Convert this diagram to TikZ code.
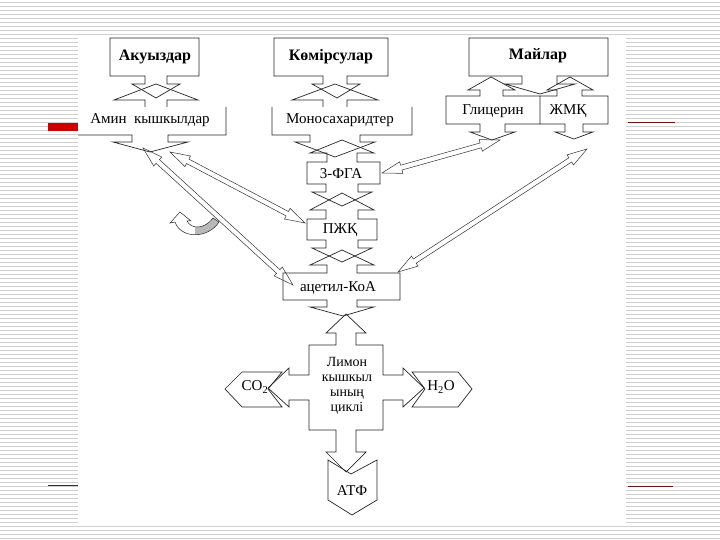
\documentclass[tikz,border=0pt]{standalone}
\usepackage{fontspec}
\setmainfont{Liberation Serif}
\usetikzlibrary{calc}
\definecolor{stripe}{RGB}{208,208,208}
\definecolor{redbar}{RGB}{204,0,0}
\definecolor{darkred}{RGB}{110,20,20}
\tikzset{
  shp/.style={draw=black!85, line width=0.7pt, line join=miter},
  lbl/.style={font=\fontsize{15}{16}\selectfont, inner sep=0pt},
  blbl/.style={font=\fontsize{16}{17}\selectfont\bfseries, inner sep=0pt},
  blk/.style={draw=black!80, line width=0.5pt, fill=white},
}
\newcommand\dblarrow[2]{%
  \coordinate (da1) at ($(#1)!20pt!(#2)$);
  \coordinate (da2) at ($(#2)!20pt!(#1)$);
  \draw[blk] (#1) -- ($(da1)!6pt!90:(#2)$) -- ($(da1)!2.5pt!90:(#2)$) -- ($(da2)!2.5pt!-90:(#1)$) -- ($(da2)!6pt!-90:(#1)$) -- (#2) -- ($(da2)!6pt!90:(#1)$) -- ($(da2)!2.5pt!90:(#1)$) -- ($(da1)!2.5pt!-90:(#2)$) -- ($(da1)!6pt!-90:(#2)$) -- cycle;}
\begin{document}
\begin{tikzpicture}[x=1pt,y=-1pt]
\useasboundingbox (0,0) rectangle (720,540);
% background stripes
\foreach \yy in {2,6,...,538} \draw[stripe, line width=0.8pt] (0,\yy) -- (720,\yy);
\fill[white] (78,37) rectangle (626,524);
% slide lines
\fill[redbar] (48,123) rectangle (78,131);
\draw[darkred, line width=1pt] (628,123) -- (675,123);
\draw[darkred, line width=1pt] (48,485) -- (78,485);
\draw[darkred, line width=1pt] (628,486) -- (673,486);

% endpoints of the diagonal arrows
\coordinate (glD) at (500,140);
\coordinate (fgaR) at (382,173);
\coordinate (zhD) at (587,149);
\coordinate (acR) at (398,272);
\coordinate (amD1) at (170,152);
\coordinate (pzhL) at (305,223);
\coordinate (amD2) at (143,148);
\coordinate (acL) at (293,285);
\dblarrow{glD}{fgaR}
\dblarrow{zhD}{acR}
\dblarrow{amD1}{pzhL}
\dblarrow{amD2}{acL}

% top boxes with down arrows
\draw[shp] (110,38) -- (199,38) -- (199,76) -- (167,76) -- (167,84) -- (180,84) -- (156,98) -- (132,84) -- (145,84) -- (145,76) -- (110,76) -- cycle;
\draw[shp] (274,38) -- (388,38) -- (388,76) -- (347,76) -- (347,84) -- (360,84) -- (337,98) -- (312,84) -- (323,84) -- (323,76) -- (274,76) -- cycle;
\draw[shp] (469,38) -- (608,38) -- (608,76) -- (557,76) -- (557,84) -- (575,84) -- (540,94) -- (505,84) -- (522,84) -- (522,76) -- (469,76) -- cycle;

% Amin box
\draw[shp] (78,135) -- (132,135) -- (132,142) -- (113,142) -- (150,152) -- (188,142) -- (168,142) -- (168,135) -- (226,135) -- (226,107);
\draw[shp] (145,107) -- (145,100) -- (114,100) -- (156,84) -- (198,100) -- (167,100) -- (167,107);
% Monosaccharide box
\draw[shp] (323,107) -- (323,100) -- (292,100) -- (335,84) -- (378,100) -- (347,100) -- (347,107);
\draw[shp] (272,107) -- (272,135) -- (310,135) -- (310,142) -- (295,142) -- (335,157) -- (375,142) -- (360,142) -- (360,135) -- (412,135) -- (412,107);
% Glycerol and fatty acid boxes
\draw[shp] (446,96) -- (480,96) -- (480,90) -- (468,90) -- (491,77) -- (515,90) -- (503,90) -- (503,96) -- (540,96) -- (540,124) -- (505,124) -- (505,132) -- (515,132) -- (492,140) -- (470,132) -- (480,132) -- (480,124) -- (446,124) -- cycle;
\draw[shp] (540,96) -- (557,96) -- (557,90) -- (547,90) -- (570,77) -- (593,90) -- (582,90) -- (582,96) -- (608,96) -- (608,124) -- (583,124) -- (583,132) -- (593,132) -- (574,139) -- (555,132) -- (565,132) -- (565,124) -- (540,124);
% 3-FGA
\draw[shp] (307,162) -- (327,162) -- (327,153) -- (310,153) -- (342,140) -- (374,153) -- (357,153) -- (357,162) -- (380,162) -- (380,184) -- (358,184) -- (358,192) -- (372,192) -- (342,206) -- (312,192) -- (326,192) -- (326,184) -- (307,184) -- cycle;
% PZhQ
\draw[shp] (307,219) -- (326,219) -- (326,210) -- (310,210) -- (342,193) -- (374,210) -- (358,210) -- (358,219) -- (377,219) -- (377,240) -- (358,240) -- (358,248) -- (372,248) -- (342,262) -- (312,248) -- (326,248) -- (326,240) -- (307,240) -- cycle;
% acetyl-CoA
\draw[shp] (283,273) -- (327,273) -- (327,265) -- (310,265) -- (342,250) -- (374,265) -- (357,265) -- (357,273) -- (400,273) -- (400,300) -- (357,300) -- (357,307) -- (374,307) -- (343,316) -- (310,307) -- (327,307) -- (327,300) -- (283,300) -- cycle;

% CO2, H2O, ATP chevrons
\draw[shp] (225,389) -- (242,372) -- (282,372) -- (268,389) -- (282,407) -- (242,407) -- cycle;
\draw[shp] (412,372) -- (458,372) -- (472,389) -- (458,407) -- (412,407) -- (425,389) -- cycle;
\draw[shp] (328,460) -- (351,474) -- (377,460) -- (377,500) -- (352,515) -- (328,500) -- cycle;
% citric acid cycle cross
\draw[shp] (346,314) -- (366,333) -- (356,333) -- (356,345) -- (383,345) -- (383,375) -- (403,375) -- (403,368) -- (424,388) -- (403,407) -- (403,400) -- (383,400) -- (383,430) -- (356,430) -- (356,452) -- (366,452) -- (346,472) -- (326,452) -- (336,452) -- (336,430) -- (309,430) -- (309,400) -- (289,400) -- (289,407) -- (268,388) -- (289,368) -- (289,375) -- (309,375) -- (309,345) -- (336,345) -- (336,333) -- (326,333) -- cycle;

% curved arrow
\def\curl{(180,212) -- (191,221) -- (187,221) .. controls (191,229) and (204,230) .. (213,218) -- (219,222) .. controls (208,239) and (181,239) .. (175,222) -- (170,223) -- cycle}
\fill[white] \curl;
\begin{scope}
  \clip (195,200) rectangle (225,245);
  \fill[gray!55] \curl;
\end{scope}
\draw[shp, line width=0.5pt] \curl;

% labels
\node[blbl] (t1) at (155,57) {Акуыздар};
\node[blbl] (t2) at (331,57) {Көмірсулар};
\node[blbl] (t3) at (538,56) {Майлар};
\node[lbl] (t4) at (150,120) {Амин\enspace кышкылдар};
\node[lbl] (t5) at (340,120) {Моносахаридтер};
\node[lbl] (t6) at (493,111) {Глицерин};
\node[lbl] (t7) at (568,111) {ЖМҚ};
\node[lbl] (t8) at (341,174) {3-ФГА};
\node[lbl] (t9) at (340,230) {ПЖҚ};
\node[lbl] (t10) at (338,288) {ацетил-КоА};
\node[inner sep=0pt, align=center, font=\fontsize{14}{15}\selectfont] (t11) at (347,386) {Лимон\\кышкыл\\ының\\циклі};
\node[lbl] (t12) at (255,387) {CO\textsubscript{2}};
\node[lbl] (t13) at (441,387) {H\textsubscript{2}O};
\node[lbl] (t14) at (352,491) {АТФ};
\end{tikzpicture}
\end{document}
